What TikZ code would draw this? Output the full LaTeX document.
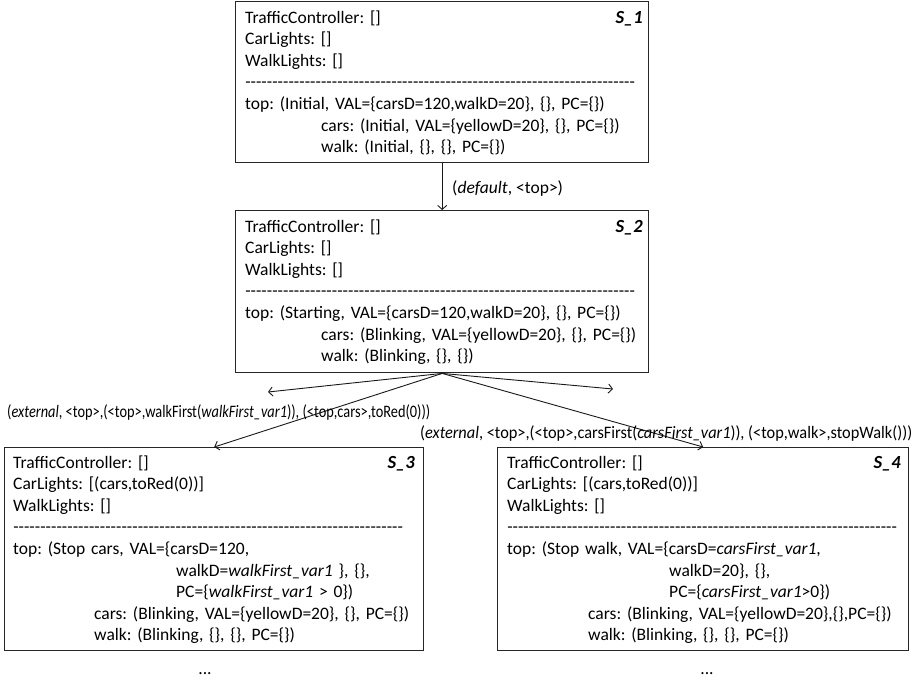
\documentclass[tikz,border=0pt]{standalone}
\usepackage{fontspec}
\setmainfont{Carlito}
\usepackage{graphicx}
\usetikzlibrary{arrows.meta}

% a row of hyphens separating the queues from the state part
\newcommand{\sepline}{\leavevmode\hbox to 390pt{\xleaders\hbox{-}\hfill}}
\newcommand{\ind}[1]{\hspace*{#1}}

\begin{document}
\frenchspacing
\begin{tikzpicture}[x=1pt,y=-1pt,
  statebox/.style={draw=black!85, line width=1.4pt, inner sep=0pt, anchor=north west},
  body/.style={anchor=base west, inner sep=0pt, text width=405pt, align=left,
    font=\fontsize{17.5}{21.6}\selectfont\frenchspacing},
  tag/.style={anchor=base east, inner sep=0pt, font=\fontsize{18.5}{20}\selectfont\bfseries\itshape},
  trans/.style={line width=0.9pt, draw=black!90, -{Straight Barb[length=4pt,width=9pt]}},
  elabel/.style={inner sep=0pt, font=\fontsize{17.5}{20}\selectfont\frenchspacing},
]
\useasboundingbox (0,0) rectangle (917,681);

% ---- state S_1
\node[statebox, minimum width=413pt, minimum height=161pt] (s1) at (235,1) {};
\node[body] (s1text) at (245,23) {TrafficController: []\\
CarLights: []\\
WalkLights: []\\
\sepline\\
top: (Initial, VAL=\{carsD=120,walkD=20\}, \{\}, PC=\{\})\\
\ind{76pt}cars: (Initial, VAL=\{yellowD=20\}, \{\}, PC=\{\})\\
\ind{76pt}walk: (Initial, \{\}, \{\}, PC=\{\})};
\node[tag] (s1tag) at (643,23) {S\_1};

% ---- state S_2
\node[statebox, minimum width=413pt, minimum height=162pt] (s2) at (235,210) {};
\node[body] (s2text) at (245,232) {TrafficController: []\\
CarLights: []\\
WalkLights: []\\
\sepline\\
top: (Starting, VAL=\{carsD=120,walkD=20\}, \{\}, PC=\{\})\\
\ind{76pt}cars: (Blinking, VAL=\{yellowD=20\}, \{\}, PC=\{\})\\
\ind{76pt}walk: (Blinking, \{\}, \{\})};
\node[tag] (s2tag) at (643,232) {S\_2};

% ---- state S_3
\node[statebox, minimum width=419pt, minimum height=203pt] (s3) at (4,447) {};
\node[body] (s3text) at (13,468) {TrafficController: []\\
CarLights: [(cars,toRed(0))]\\
WalkLights: []\\
\sepline\\
top: (Stop cars, VAL=\{carsD=120,\\
\ind{163pt}walkD=\textit{walkFirst\_var1} \}, \{\},\\
\ind{163pt}PC=\{\textit{walkFirst\_var1} > 0\})\\
\ind{81pt}cars: (Blinking, VAL=\{yellowD=20\}, \{\}, PC=\{\})\\
\ind{81pt}walk: (Blinking, \{\}, \{\}, PC=\{\})};
\node[tag] (s3tag) at (415,468) {S\_3};
\node[elabel] (s3more) at (205,674) {...};

% ---- state S_4
\node[statebox, minimum width=411pt, minimum height=203pt] (s4) at (497,447) {};
\node[body] (s4text) at (507,468) {TrafficController: []\\
CarLights: [(cars,toRed(0))]\\
WalkLights: []\\
\sepline\\
top: (Stop walk, VAL=\{carsD=\textit{carsFirst\_var1},\\
\ind{162pt}walkD=20\}, \{\},\\
\ind{162pt}PC=\{\textit{carsFirst\_var1}>0\})\\
\ind{81pt}cars: (Blinking, VAL=\{yellowD=20\},\{\},PC=\{\})\\
\ind{81pt}walk: (Blinking, \{\}, \{\}, PC=\{\})};
\node[tag] (s4tag) at (901,468) {S\_4};
\node[elabel] (s4more) at (707,674) {...};

% ---- transitions
\draw[trans] (s1.south) -- (s2.north);
\node[elabel, anchor=west] (l12) at (452,189) {(\textit{default}, <top>)};

\coordinate (leftend) at (268,392);
\coordinate (rightend) at (613,389);
\draw[trans] (s2.south) -- (leftend);
\draw[trans] (s2.south) -- (rightend);
\draw[trans] (s2.south) -- (s3.north);
\draw[trans] (s2.south) -- (s4.north);

\node[elabel, anchor=west] (l23) at (7,412)
  {\resizebox{423pt}{\height}{(\textit{external}, <top>,(<top>,walkFirst(\textit{walkFirst\_var1})), (<top,cars>,toRed(0)))}};
\node[elabel, anchor=west] (l24) at (420,433)
  {\resizebox{492pt}{\height}{(\textit{external}, <top>,(<top>,carsFirst(\textit{carsFirst\_var1})), (<top,walk>,stopWalk()))}};
\end{tikzpicture}
\end{document}
